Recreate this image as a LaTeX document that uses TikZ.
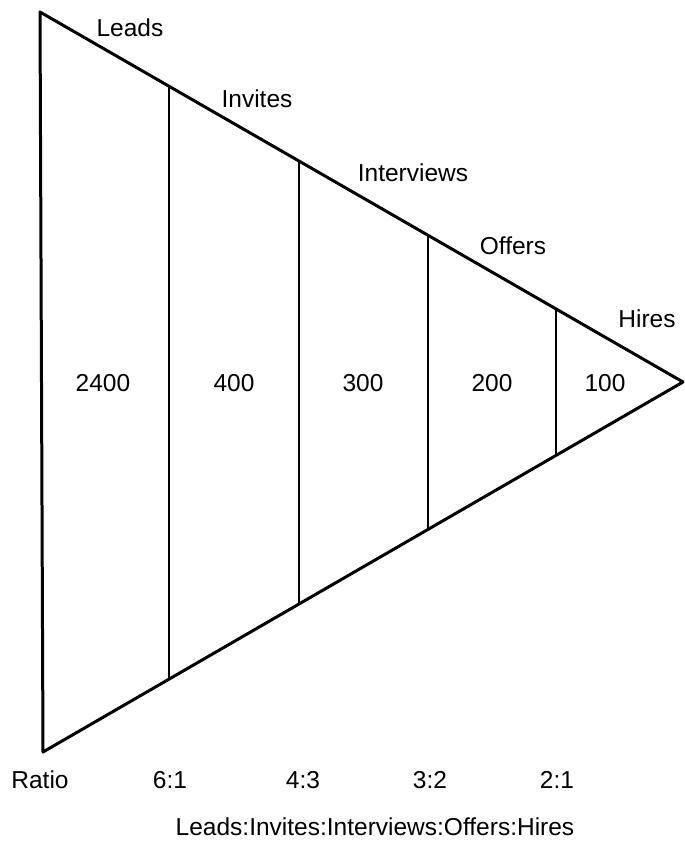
\documentclass[tikz,border=0pt]{standalone}
\usepackage{fontspec}
\setmainfont{Liberation Sans}
\begin{document}
\begin{tikzpicture}[x=1pt,y=-1pt,
  edge/.style={line width=3pt,line join=round,line cap=round},
  divider/.style={line width=2.7pt},
  lbl/.style={inner sep=0pt,text height=17pt,text depth=0pt,font=\fontsize{24.5}{28}\selectfont}]
\useasboundingbox (0,0) rectangle (685,846);
% triangle corners
\coordinate (TL) at (40,12);
\coordinate (BL) at (43,752);
\coordinate (AP) at (683,382);
% divider end points
\coordinate (t1) at (169,86.2);   \coordinate (b1) at (169,679.2);
\coordinate (t2) at (299,161.0);  \coordinate (b2) at (299,604.0);
\coordinate (t3) at (428,235.3);  \coordinate (b3) at (428,529.4);
\coordinate (t4) at (556,308.9);  \coordinate (b4) at (556,455.4);
\draw[edge] (TL) -- (AP) -- (BL) -- cycle;
\draw[divider] (t1) -- (b1);
\draw[divider] (t2) -- (b2);
\draw[divider] (t3) -- (b3);
\draw[divider] (t4) -- (b4);
% stage labels
\node[lbl] (leads) at (130,28) {Leads};
\node[lbl] (invites) at (257,99) {Invites};
\node[lbl] (interviews) at (413,173) {Interviews};
\node[lbl] (offers) at (513,246) {Offers};
\node[lbl] (hires) at (647,319) {Hires};
% numbers
\node[lbl] (n1) at (103,383) {2400};
\node[lbl] (n2) at (234,383) {400};
\node[lbl] (n3) at (363,383) {300};
\node[lbl] (n4) at (492,383) {200};
\node[lbl] (n5) at (605,383) {100};
% ratios
\node[lbl] (r0) at (40,780) {Ratio};
\node[lbl] (r1) at (170,780) {6:1};
\node[lbl] (r2) at (303,780) {4:3};
\node[lbl] (r3) at (430,780) {3:2};
\node[lbl] (r4) at (557,780) {2:1};
\node[lbl] (legend) at (375,827) {Leads:Invites:Interviews:Offers:Hires};
\end{tikzpicture}
\end{document}
